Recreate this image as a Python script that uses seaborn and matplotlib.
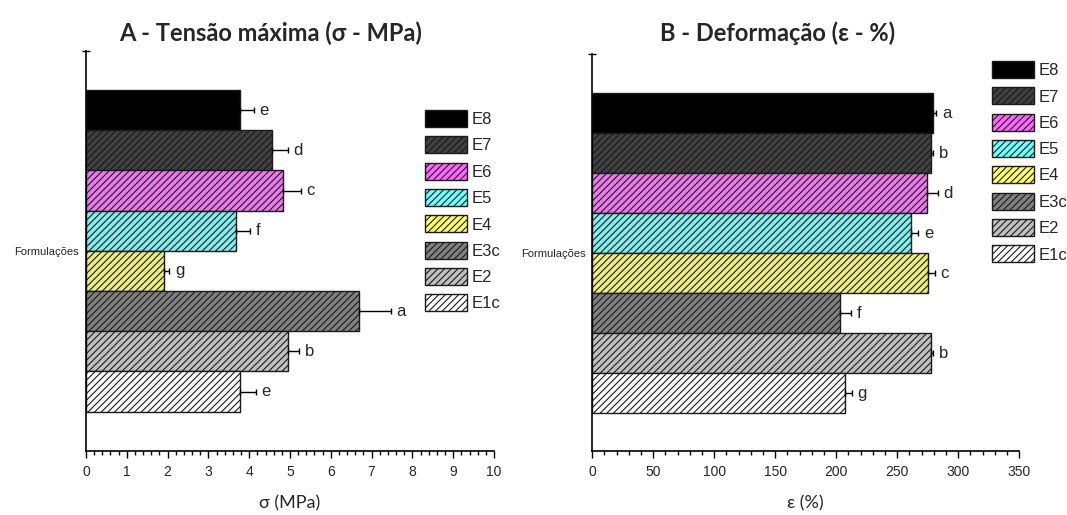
import pandas as pd
import seaborn as sns
import matplotlib.pyplot as plt
from matplotlib.patches import Patch
from matplotlib.ticker import MultipleLocator
from matplotlib import font_manager

# formulations, top to bottom as in the chart
forms = ['E8', 'E7', 'E6', 'E5', 'E4', 'E3c', 'E2', 'E1c']

# A - max tensile stress (MPa)
sigma = [3.77, 4.55, 4.82, 3.68, 1.92, 6.69, 4.96, 3.78]
sigma_err = [0.35, 0.39, 0.44, 0.34, 0.12, 0.78, 0.27, 0.39]
sigma_letters = ['e', 'd', 'c', 'f', 'g', 'a', 'b', 'e']

# B - elongation (%)
eps = [279.7, 277.8, 274.3, 261.4, 275.1, 203.2, 277.8, 207.6]
eps_err = [2.5, 1.5, 9.0, 6.0, 6.0, 9.0, 2.0, 5.0]
eps_letters = ['a', 'b', 'd', 'e', 'c', 'f', 'b', 'g']

colors = {'E8': '#000000', 'E7': '#404040', 'E6': '#FF66FF', 'E5': '#70FFFF',
          'E4': '#FFFF70', 'E3c': '#808080', 'E2': '#C0C0C0', 'E1c': '#FFFFFF'}
hatches = {'E8': '', 'E7': '/////', 'E6': '/////', 'E5': '/////', 'E4': '/////',
           'E3c': '/////', 'E2': '/////', 'E1c': '/////'}

sns.set_theme(style='ticks')
plt.rcParams['hatch.linewidth'] = 0.8
plt.rcParams['hatch.color'] = 'black'

installed = {f.name for f in font_manager.fontManager.ttflist}
narrow = ['Liberation Sans Narrow'] if 'Liberation Sans Narrow' in installed else ['Liberation Sans']
narrow = narrow + ['DejaVu Sans']
titlef = ['Lato', 'DejaVu Sans']

fig = plt.figure(figsize=(10.67, 5.15), dpi=100)
axA = fig.add_axes([0.0806, 0.1243, 0.3824, 0.7773])
axB = fig.add_axes([0.5551, 0.1243, 0.4000, 0.7708])


def draw(ax, vals, errs, letters, xmax, major, minor, ylim):
    df = pd.DataFrame({'form': forms, 'val': vals})
    sns.barplot(data=df, x='val', y='form', hue='form', order=forms, hue_order=forms,
                palette=colors, width=1.0, edgecolor='black', linewidth=1.0,
                errorbar=None, legend=False, ax=ax)
    for p in ax.patches:
        i = int(round(p.get_y() + p.get_height() / 2))
        p.set_hatch(hatches[forms[i]])
        p.set_edgecolor('#1a1a1a')
    pos = list(range(len(forms)))
    ax.errorbar(vals, pos, xerr=[[0] * len(vals), errs], fmt='none', ecolor='black',
                elinewidth=1.0, capsize=2.5, capthick=1.0)
    for v, e, l, y in zip(vals, errs, letters, pos):
        ax.annotate(l, xy=(v + e, y), xytext=(4, 0), textcoords='offset points',
                    va='center', ha='left', fontsize=12, family=narrow)
    ax.set_xlim(0, xmax)
    ax.set_ylim(*ylim)
    ax.xaxis.set_major_locator(MultipleLocator(major))
    ax.xaxis.set_minor_locator(MultipleLocator(minor))
    ax.tick_params(axis='x', which='major', direction='out', length=5, width=1,
                   labelsize=10, color='black', pad=5)
    ax.tick_params(axis='x', which='minor', direction='out', length=3, width=1,
                   color='black')
    ax.set_xticks(ax.get_xticks())
    ax.set_xticklabels([f'{t:g}' for t in ax.get_xticks()], family=narrow, fontsize=10)
    ax.set_xlim(0, xmax)
    ax.set_yticks([3.5])
    ax.set_yticklabels(['Formulações'], family=narrow, fontsize=8)
    ax.tick_params(axis='y', which='major', length=0, pad=5)
    ax.set_yticks([ylim[1]], minor=True)
    ax.tick_params(axis='y', which='minor', direction='inout', length=6, width=1,
                   color='black')
    ax.set_ylabel('')
    sns.despine(ax=ax)
    for s in ['left', 'bottom']:
        ax.spines[s].set_color('black')
        ax.spines[s].set_linewidth(1.2)
    handles = [Patch(facecolor=colors[f], hatch=hatches[f], edgecolor='#1a1a1a', label=f)
               for f in forms]
    return handles


hA = draw(axA, sigma, sigma_err, sigma_letters, 10, 1, 0.2, (8.48, -1.48))
hB = draw(axB, eps, eps_err, eps_letters, 350, 50, 10, (8.44, -1.48))

axA.set_xlabel('σ (MPa)', fontsize=13, family=titlef, labelpad=12)
axB.set_xlabel('ε (%)', fontsize=13, family=titlef, labelpad=12)

fig.text(271 / 1067, 1 - 33 / 515, 'A - Tensão máxima (σ - MPa)', ha='center', va='center',
         fontsize=17, fontweight='bold', family=titlef)
fig.text(778 / 1067, 1 - 33 / 515, 'B - Deformação (ε - %)', ha='center', va='center',
         fontsize=17, fontweight='bold', family=titlef)

legkw = dict(loc='upper left', frameon=False, borderpad=0, borderaxespad=0,
             handlelength=2.5, handleheight=1.2, labelspacing=0.55, handletextpad=0.3,
             prop={'family': narrow, 'size': 12})
fig.legend(handles=hA, bbox_to_anchor=(425 / 1067, 1 - 110 / 515), **legkw)
fig.legend(handles=hB, bbox_to_anchor=(992 / 1067, 1 - 61 / 515), **legkw)

fig.savefig('out.png', dpi=100, facecolor='white')
